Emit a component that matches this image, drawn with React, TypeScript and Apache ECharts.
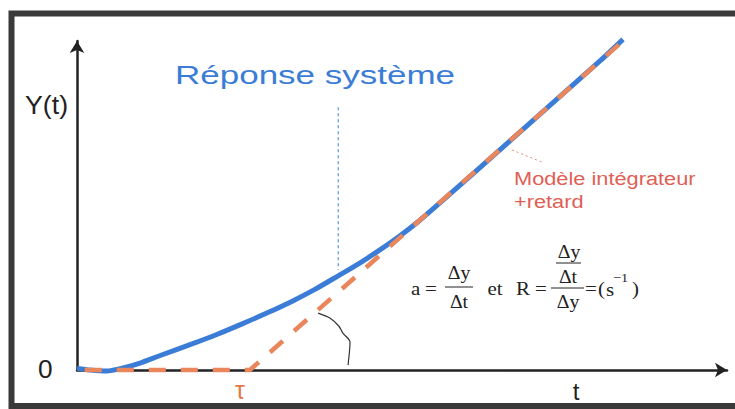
import React, { useEffect, useRef } from "react";
import * as echarts from "echarts";

// System response (measured curve)
const responseT = [0, 0.2, 0.46, 0.74, 0.97, 1.28, 1.78, 2.15, 2.55, 2.92, 3.32, 3.66, 4.0, 4.35, 4.66, 4.97, 5.28, 5.74, 6.51, 7.28, 8.05, 8.4];
const responseY = [0.05, 0.0, -0.03, 0.08, 0.21, 0.44, 0.8, 1.08, 1.41, 1.73, 2.1, 2.45, 2.84, 3.25, 3.65, 4.08, 4.56, 5.35, 6.7, 8.05, 9.4, 10.05];

// Integrator + delay model: flat until tau, then a ramp
const modelT = [0.12, 2.66, 8.45];
const modelY = [0, 0, 10.09];
const tau = 2.66;

// Dotted marker from the title down to the curve
const markerT = [4.02, 4.02];
const markerY = [7.99, 3.04];

// Hand-drawn angle mark between the ramp and the time axis
const angleT = [3.71, 3.89, 4.03, 4.09, 4.2, 4.17];
const angleY = [1.73, 1.58, 1.33, 1.12, 0.85, 0.15];

// Leader from the model label to the ramp
const leaderT = [6.69, 7.15];
const leaderY = [6.69, 6.32];

const xMin = 0;
const xMax = 10;
const yMin = 0;
const yMax = 10;

const BLUE = "#3b7dd6";
const ORANGE = "#e9865c";
const LABEL_RED = "#df5f55";
const INK = "#222";

const pairs = (xs: number[], ys: number[]) => xs.map((x, i) => [x, ys[i]]);

const serif = "'Liberation Serif', 'Times New Roman', serif";
const sans = "'Liberation Sans', Arial, sans-serif";

function mathText(text: string, x: number, y: number, size = 18, align = "center", scaleX = 1.1) {
  return {
    type: "text",
    x,
    y,
    scaleX,
    silent: true,
    style: { text, fontSize: size, fontFamily: serif, fill: INK, align, verticalAlign: "middle" },
  };
}

function bar(x1: number, x2: number, y: number) {
  return {
    type: "line",
    silent: true,
    shape: { x1, y1: y, x2, y2: y },
    style: { stroke: INK, lineWidth: 1 },
  };
}

export default function App() {
  const ref = useRef<HTMLDivElement>(null);

  useEffect(() => {
    if (!ref.current) return;
    const chart = echarts.init(ref.current, null, { renderer: "svg" });

    const axisLine = {
      show: true,
      onZero: true,
      symbol: ["none", "arrow"],
      symbolSize: [11, 12],
      lineStyle: { color: INK, width: 2.5 },
    };

    chart.setOption({
      animation: false,
      backgroundColor: "#ffffff",
      grid: { left: 77, right: 8, top: 41, bottom: 39, containLabel: false },
      xAxis: {
        type: "value",
        min: xMin,
        max: xMax,
        axisLine,
        axisTick: { show: false },
        axisLabel: { show: false },
        splitLine: { show: false },
      },
      yAxis: {
        type: "value",
        min: yMin,
        max: yMax,
        axisLine,
        axisTick: { show: false },
        axisLabel: { show: false },
        splitLine: { show: false },
      },
      series: [
        {
          name: "Réponse système",
          type: "line",
          data: pairs(responseT, responseY),
          showSymbol: false,
          symbol: "none",
          smooth: 0.25,
          clip: false,
          silent: true,
          lineStyle: { color: BLUE, width: 5 },
          z: 3,
        },
        {
          name: "Modèle intégrateur +retard",
          type: "line",
          data: pairs(modelT, modelY),
          showSymbol: false,
          symbol: "none",
          clip: false,
          silent: true,
          lineStyle: { color: ORANGE, width: 4.5, type: [17, 15] },
          z: 4,
        },
        {
          type: "line",
          data: pairs(markerT, markerY),
          showSymbol: false,
          symbol: "none",
          silent: true,
          lineStyle: { color: "#6aa5e6", width: 1.4, type: [3, 3] },
          z: 2,
        },
        {
          type: "line",
          data: pairs(angleT, angleY),
          showSymbol: false,
          symbol: "none",
          smooth: 0.3,
          silent: true,
          lineStyle: { color: "#333", width: 1.2 },
          z: 2,
        },
        {
          type: "line",
          data: pairs(leaderT, leaderY),
          showSymbol: false,
          symbol: "none",
          silent: true,
          lineStyle: { color: "#e08a80", width: 1, type: [2, 3] },
          z: 2,
        },
      ],
      graphic: [
        // frame
        {
          type: "rect",
          silent: true,
          shape: { x: 11.5, y: 13.5, width: 745, height: 392.5 },
          style: { fill: "none", stroke: "#3a3a3a", lineWidth: 6 },
          z: 10,
        },
        // title
        {
          type: "text",
          x: 175,
          y: 75,
          scaleX: 1.4,
          silent: true,
          style: { text: "Réponse système", fontSize: 25, fontFamily: sans, fill: BLUE, align: "left", verticalAlign: "middle" },
        },
        // model label
        {
          type: "text",
          x: 514,
          y: 179,
          scaleX: 1.21,
          silent: true,
          style: { text: "Modèle intégrateur", fontSize: 18, fontFamily: sans, fill: LABEL_RED, align: "left", verticalAlign: "middle" },
        },
        {
          type: "text",
          x: 514,
          y: 202,
          scaleX: 1.21,
          silent: true,
          style: { text: "+retard", fontSize: 18, fontFamily: sans, fill: LABEL_RED, align: "left", verticalAlign: "middle" },
        },
        // axis names
        {
          type: "text",
          x: 25,
          y: 105,
          scaleX: 1.07,
          silent: true,
          style: { text: "Y(t)", fontSize: 25, fontFamily: sans, fill: INK, align: "left", verticalAlign: "middle" },
        },
        {
          type: "text",
          x: 38,
          y: 369,
          scaleX: 1.05,
          silent: true,
          style: { text: "0", fontSize: 25, fontFamily: sans, fill: INK, align: "left", verticalAlign: "middle" },
        },
        {
          type: "text",
          x: 576,
          y: 391,
          silent: true,
          style: { text: "t", fontSize: 24, fontFamily: sans, fill: INK, align: "center", verticalAlign: "middle" },
        },
        {
          type: "text",
          x: 77 + (tau / (xMax - xMin)) * 650 - 10,
          y: 390,
          silent: true,
          style: { text: "τ", fontSize: 25, fontFamily: sans, fill: "#e57848", align: "center", verticalAlign: "middle" },
        },
        // a = Δy/Δt
        mathText("a", 411, 288, 19, "left"),
        mathText("=", 431, 288, 19),
        mathText("Δy", 459, 273),
        bar(445, 473, 287),
        mathText("Δt", 459, 302),
        mathText("et", 495, 288, 19),
        // R = (Δy/Δt)/Δy = (s^-1)
        mathText("R", 516, 288, 19, "left"),
        mathText("=", 541, 288, 19),
        mathText("Δy", 569, 252),
        bar(556, 581, 263),
        mathText("Δt", 568, 277),
        bar(551, 584, 288),
        mathText("Δy", 568, 302),
        mathText("=", 591, 288, 19),
        mathText("(", 598, 288, 19, "left"),
        mathText("s", 606, 289, 19, "left"),
        mathText("−1", 613, 278, 13, "left"),
        mathText(")", 632, 288, 19, "left"),
      ],
    });

    return () => chart.dispose();
  }, []);

  return (
    <div
      ref={ref}
      style={{ position: "fixed", left: 0, top: 0, width: 735, height: 409, background: "#fff" }}
    />
  );
}
